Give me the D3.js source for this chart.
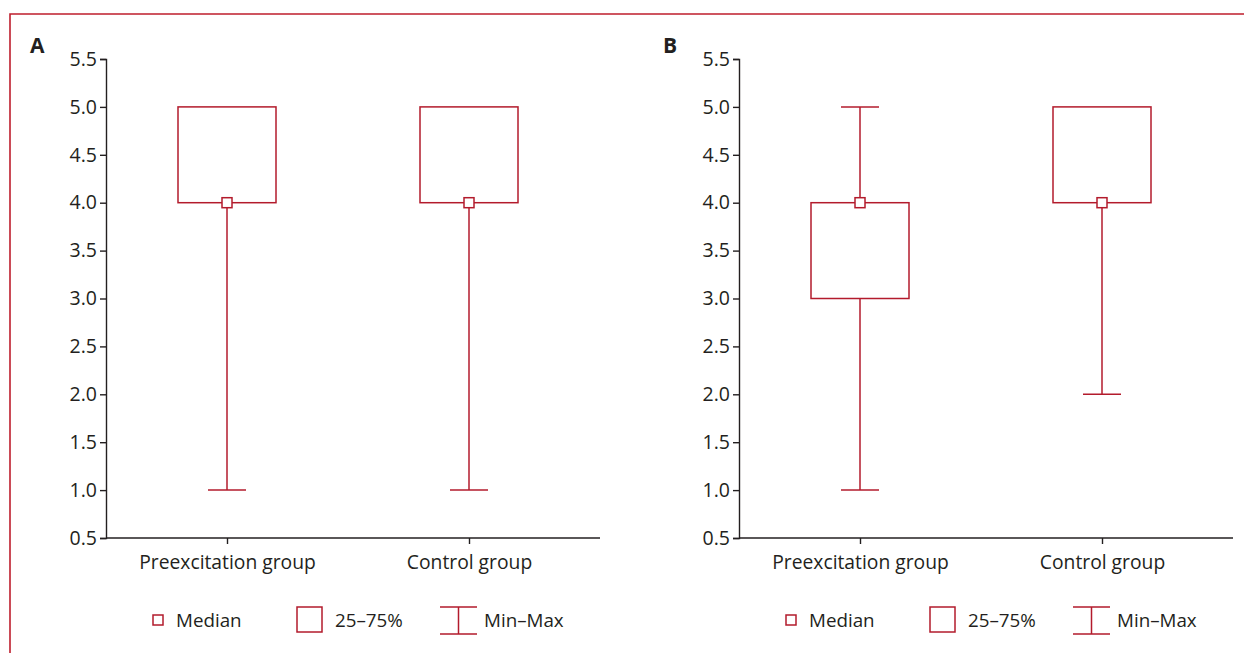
<!DOCTYPE html>
<html>
<head>
<meta charset="utf-8">
<title>box plots</title>
<script src="https://d3js.org/d3.v7.min.js"></script>
<style>
  body { margin: 0; background: #fff; }
  svg { display: block; }
  text { font-family: "Open Sans", "Noto Sans", sans-serif; fill: #231f20; }
  .axis path, .axis line { stroke: #231f20; stroke-width: 1.4; }
</style>
</head>
<body>
<svg id="main" width="1244" height="653"></svg>
<script>
const groups = ["Preexcitation group", "Control group"];
const panelNames = ["A", "B"];
const yTicks = [0.5, 1.0, 1.5, 2.0, 2.5, 3.0, 3.5, 4.0, 4.5, 5.0, 5.5];
const legendLabels = ["Median", "25\u201375%", "Min\u2013Max"];

// panel A
const medianA = [4, 4];
const q1A = [4, 4];
const q3A = [5, 5];
const minA = [1, 1];
const maxA = [5, 5];

// panel B
const medianB = [4, 4];
const q1B = [3, 4];
const q3B = [4, 5];
const minB = [1, 2];
const maxB = [5, 5];

const red = "#b31b2c";
const svg = d3.select("#main");

// frame (top and left only)
svg.append("path")
  .attr("d", "M10,653 V14 H1244")
  .attr("fill", "none")
  .attr("stroke", "#be1e2d")
  .attr("stroke-width", 1.6);

const y = d3.scaleLinear().domain([0.5, 5.5]).range([538, 59]);

function panel(ox, name, med, q1, q3, mn, mx) {
  const g = svg.append("g").attr("transform", `translate(${ox},0)`);
  const x = d3.scalePoint().domain(groups).range([0, 484]).padding(0.5);

  g.append("text").attr("x", -76).attr("y", 53)
    .style("font-size", "21px").attr("font-weight", "bold")
    .text(name);

  const ya = g.append("g").attr("class", "axis")
    .call(d3.axisLeft(y).tickValues(yTicks).tickFormat(d3.format(".1f")).tickSize(6).tickSizeOuter(6).tickPadding(3));
  ya.selectAll(".tick text").style("font-size", "19.5px");

  const xa = g.append("g").attr("class", "axis")
    .attr("transform", `translate(0,${y(0.5)})`)
    .call(d3.axisBottom(x).tickSize(6).tickSizeOuter(0).tickPadding(11));
  xa.select(".domain").attr("d", "M0,0H494");
  xa.selectAll(".tick text").style("font-size", "19.3px");

  const bw = 98, cap = 38, ms = 10;
  groups.forEach((grp, i) => {
    const cx = x(grp);
    const b = g.append("g").attr("fill", "none").attr("stroke", red).attr("stroke-width", 1.5);
    // whiskers
    if (mn[i] < q1[i]) {
      b.append("line").attr("x1", cx).attr("x2", cx).attr("y1", y(mn[i])).attr("y2", y(q1[i]));
      b.append("line").attr("x1", cx - cap / 2).attr("x2", cx + cap / 2).attr("y1", y(mn[i])).attr("y2", y(mn[i]));
    }
    if (mx[i] > q3[i]) {
      b.append("line").attr("x1", cx).attr("x2", cx).attr("y1", y(mx[i])).attr("y2", y(q3[i]));
      b.append("line").attr("x1", cx - cap / 2).attr("x2", cx + cap / 2).attr("y1", y(mx[i])).attr("y2", y(mx[i]));
    }
    b.append("rect").attr("x", cx - bw / 2).attr("y", y(q3[i]))
      .attr("width", bw).attr("height", y(q1[i]) - y(q3[i]));
    b.append("rect").attr("x", cx - ms / 2).attr("y", y(med[i]) - ms / 2)
      .attr("width", ms).attr("height", ms).attr("fill", "#fff");
  });

  // legend
  const lg = g.append("g").attr("fill", "none").attr("stroke", red).attr("stroke-width", 1.5);
  lg.append("rect").attr("x", 47).attr("y", 615).attr("width", 10).attr("height", 10);
  lg.append("rect").attr("x", 191).attr("y", 607).attr("width", 25).attr("height", 25);
  lg.append("path").attr("d", "M334,607H371M352.5,607V634M334,634H371");
  const lx = [70, 229, 378];
  legendLabels.forEach((t, i) => {
    g.append("text").attr("x", lx[i]).attr("y", 627)
      .style("font-size", "18.8px").text(t);
  });
}

panel(106, panelNames[0], medianA, q1A, q3A, minA, maxA);
panel(739, panelNames[1], medianB, q1B, q3B, minB, maxB);
</script>
</body>
</html>
